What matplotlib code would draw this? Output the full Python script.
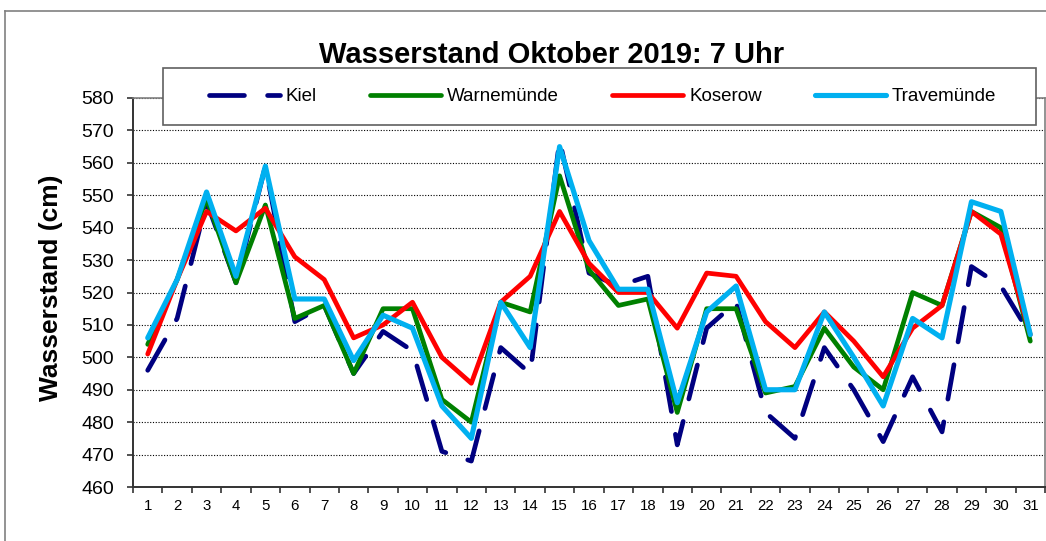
import numpy as np
import matplotlib
matplotlib.use("Agg")
import matplotlib.pyplot as plt
from matplotlib.lines import Line2D
from matplotlib.patches import Rectangle

plt.rcParams['font.family'] = ['Liberation Sans', 'DejaVu Sans']

tage = list(range(1, 32))

kiel = [496, 512, 548, 523, 559, 511, 516, 495, 508, 502, 471, 468, 503, 495, 567, 526,
        522, 525, 473, 509, 517, 483, 475, 503, 490, 474, 494, 477, 528, 522, 507]
warnemuende = [504, 524, 549, 523, 547, 512, 516, 495, 515, 515, 487, 480, 517, 514, 556, 527,
               516, 518, 483, 515, 515, 489, 491, 509, 497, 490, 520, 516, 545, 540, 505]
koserow = [501, 524, 545, 539, 546, 531, 524, 506, 510, 517, 500, 492, 517, 525, 545, 529,
           520, 520, 509, 526, 525, 511, 503, 514, 505, 494, 509, 516, 545, 538, 507]
travemuende = [506, 524, 551, 525, 559, 518, 518, 499, 513, 509, 485, 475, 517, 503, 565, 536,
               521, 521, 486, 514, 522, 490, 490, 514, 500, 485, 512, 506, 548, 545, 507]

y_ticks = list(range(460, 581, 10))

W, H = 1046, 541
fig = plt.figure(figsize=(W / 100, H / 100), dpi=100)

# aeusserer Rahmen (rechts und unten abgeschnitten)
fig.add_artist(Line2D([5 / W, 5 / W], [0, 1 - 11 / H], transform=fig.transFigure,
                      color='#808080', lw=1.2))
fig.add_artist(Line2D([5 / W, 1], [1 - 11 / H, 1 - 11 / H], transform=fig.transFigure,
                      color='#808080', lw=1.2))

ax = fig.add_axes([133 / W, 1 - 487 / H, 912 / W, 389 / H])

lw = 3.4
ax.plot(tage, kiel, color='#000080', lw=lw, dashes=(7.4, 4.9), dash_capstyle='round',
        solid_capstyle='round', label='Kiel')
ax.plot(tage, warnemuende, color='#008000', lw=lw, solid_capstyle='round', label='Warnemünde')
ax.plot(tage, koserow, color='#FF0000', lw=lw, solid_capstyle='round', label='Koserow')
ax.plot(tage, travemuende, color='#00B0F0', lw=lw + 0.3, solid_capstyle='round', label='Travemünde')

ax.set_xlim(0.5, 31.5)
ax.set_ylim(460, 580)
ax.set_yticks(y_ticks)
ax.set_xticks(np.arange(0.5, 32, 1))
ax.set_xticklabels([])
ax.set_xticks(tage, minor=True)
ax.set_xticklabels([str(t) for t in tage], minor=True, fontsize=10.8)
ax.tick_params(axis='x', which='major', direction='out', length=4, width=1.2, color='#333333')
ax.tick_params(axis='x', which='minor', length=0, pad=9)
ax.tick_params(axis='y', direction='out', length=4.5, width=1.2, color='#333333',
               labelsize=14, pad=9)

ax.yaxis.grid(True, color='black', linestyle=(0, (1, 1.5)), lw=0.8)
ax.set_axisbelow(True)

for s in ['left', 'bottom']:
    ax.spines[s].set_color('#333333')
    ax.spines[s].set_linewidth(1.4)
for s in ['top', 'right']:
    ax.spines[s].set_color('#808080')
    ax.spines[s].set_linewidth(1.2)

# Legendenkasten
fig.add_artist(Rectangle((163 / W, 1 - 125 / H), (1036 - 163) / W, 57 / H,
                         transform=fig.transFigure, facecolor='white',
                         edgecolor='#606060', lw=1.2, zorder=5))
leg = fig.legend(loc='center', bbox_to_anchor=((163 + 1036) / 2 / W + 3 / W, 1 - 96.5 / H),
                 ncol=4, frameon=False, fontsize=13.5, handlelength=3.8,
                 handletextpad=0.3, columnspacing=2.85)
leg.set_zorder(6)

fig.text(552 / W, 1 - 63 / H, 'Wasserstand Oktober 2019: 7 Uhr', ha='center',
         va='baseline', fontsize=21, fontweight='bold')
fig.text(51 / W, 1 - 288 / H, 'Wasserstand (cm)', rotation=90, ha='center', va='center',
         fontsize=19, fontweight='bold')

fig.savefig('out.png', dpi=100)
